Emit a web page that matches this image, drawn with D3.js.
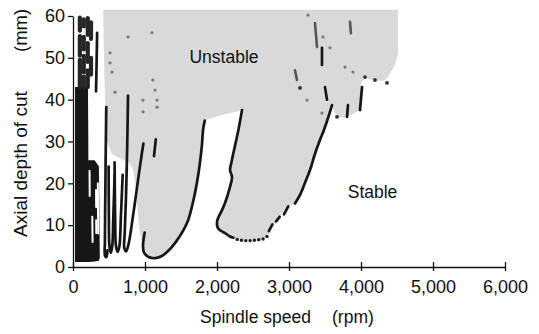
<!DOCTYPE html>
<html><head><meta charset="utf-8">
<script src="https://cdn.jsdelivr.net/npm/d3@7"></script>
<style>
html,body{margin:0;padding:0;background:#fff;}
svg{display:block;font-family:"Liberation Sans",Arial,Helvetica,sans-serif;}
</style></head><body>
<svg id="c" width="539" height="334"></svg>
<script>
// ---------- data (spindle speed rpm, axial depth mm) ----------
const xTicks = [0,1000,2000,3000,4000,5000,6000];
const yTicks = [0,10,20,30,40,50,60];
const xTitle = "Spindle speed";
const xUnit = "(rpm)";
const yTitle = "Axial depth of cut";
const yUnit = "(mm)";
const regionLabels = [["Unstable",2097,48.8],["Stable",4160,16.5]];

// unstable (grey) region outline
const unstableRegion = [[420,61.5],[4514,61.5],[4514,51],[4470,48.3],[4400,46.2],[4333,44.6],[4194,44.5],[4056,45.2],[4000,44],[3986,37.5],[3806,35.9],[3667,35.6],[3600,38.3],[3500,33.9],[3431,30.4],[3300,24],[3200,19.5],[3080,15.3],[2972,14.3],[2850,11.8],[2760,9.5],[2694,7.2],[2600,6.4],[2400,6.4],[2292,6.6],[2208,7.2],[2111,8.1],[2014,9.3],[2000,10.8],[2069,13.6],[2111,15.3],[2208,21.5],[2181,23.2],[2222,28],[2319,35.1],[2347,37.5],[2100,36.5],[1820,35],[1790,29],[1750,23.2],[1680,16],[1583,10.5],[1417,5.7],[1306,3.6],[1208,2.4],[1139,2.2],[1069,2.4],[1000,3.3],[972,5.0],[930,8],[900,13],[870,19],[840,23],[780,25],[650,26],[540,27],[470,30],[445,40],[428,52]];

// dense low-speed band (solid part)
const denseX = [28,208,214,300,360,372];
const denseTop = [43,43,25.5,25.5,24,3];
const denseBottom = [1.2,1.2,1.2,1.3,1.5,2.2];
// speckled upper column: [rpm, top mm, bottom mm]
const speckles = [
  [95,59.6,56.5],[95,55.2,50.5],[95,49.5,43],
  [150,59.2,57.5],[150,55,52],[150,50.5,46.5],[150,45.5,43],
  [205,59.5,55.5],[205,53.5,49],[205,47,43],
  [250,58.5,54.5],[250,50,46]
];

// black lobe boundary lines
const lobeLines = [
  [[335,56],[328,49],[320,42]],
  [[462,38.2],[455,28],[448,16],[443,6],[446,2.6],[465,2.4],[478,4]],
  [[495,24],[498,12],[506,5],[525,3.4],[545,5],[560,12],[578,22]],
  [[578,25],[585,12],[597,5],[620,3.6],[645,5],[665,12],[690,22]],
  [[764,41],[754,30],[738,18],[718,8],[712,4.6],[738,3.7],[772,5.5],[840,13],[905,21],[955,27],[978,29.5]],
  [[1150,30.5],[1125,26.5]],
  [[995,8.2],[972,5.0],[990,3.3],[1050,2.4],[1139,2.1],[1220,2.5],[1306,3.6],[1417,5.7],[1583,10.5],[1660,15],[1720,20],[1760,24.5],[1790,29],[1808,33],[1830,35]],
  [[2347,37.5],[2300,33],[2250,29],[2200,25],[2181,23.2],[2208,21.5],[2170,18.5],[2111,15.3],[2069,13.6],[2000,10.8],[2014,9.3],[2060,8.6],[2111,8.1],[2180,7.3],[2230,7.0]],
  [[3597,38.7],[3540,35.5],[3480,32.5],[3431,30.4],[3360,27],[3292,23.2],[3230,20.5],[3160,17.5],[3083,15.2]],
  [[2990,14.5],[2930,12.6]],
  [[2870,12.0],[2820,10.9]],
  [[2770,10.2],[2720,8.6]],
  [[3458,52.4],[3458,48.3]],
  [[3500,43],[3528,40]],
  [[4014,43],[3986,37.5]],
  [[3819,38.7],[3806,35.9]]
];
// white slits inside the dense band
const whiteSlits = [
  [[230,23],[232,17]],
  [[320,18.4],[322,14.3]],
  [[322,11.2],[324,8.1]],
  [[268,12],[272,6]],
  [[345,20],[350,8]]
];
// medium marks
const mediumMarks = [
  [[3361,58.3],[3389,52.6]],
  [[3847,58.6],[3860,55.9]],
  [[3083,47],[3111,44.7]]
];
// bottom dotted segment of the 2,300 rpm lobe
const bottomDots = [[2280,6.6],[2340,6.4],[2400,6.3],[2460,6.3],[2520,6.4],[2580,6.5],[2640,6.7],[2694,7.3]];
// dark scattered dots
const darkDots = [[3667,35.9],[4056,45.4],[4194,44.7],[4361,44],[3153,42.8]];
// faint scattered dots
const faintDots = [[3264,60.2],[3472,55],[3569,52.4],[3778,47.8],[3889,46.6],[3250,39.9],[3458,36.8],
  [514,51.2],[514,48.8],[542,46.6],[583,41.8],[764,55],[1097,56],[1111,44.7],[1139,42.3],[1167,39.9],[1167,38.2],[972,39.9],[972,37.1]];

// ---------- drawing ----------
const svg = d3.select("#c");
const x = d3.scaleLinear().domain([0,6000]).range([73,505]);
const y = d3.scaleLinear().domain([0,60]).range([267,16]);

const defs = svg.append("defs");
defs.append("filter").attr("id","soft").append("feGaussianBlur").attr("stdDeviation",0.6);

const plot = svg.append("g").attr("filter","url(#soft)");
const straight = d3.line().x(d=>x(d[0])).y(d=>y(d[1]));
const smooth = d3.line().x(d=>x(d[0])).y(d=>y(d[1])).curve(d3.curveCatmullRom);

plot.append("path").datum(unstableRegion)
  .attr("d", d3.line().x(d=>x(d[0])).y(d=>y(d[1])).curve(d3.curveLinearClosed))
  .attr("fill","#d9d9d9");

const areaGen = (xs,top,bot) => d3.area().x((d,i)=>x(xs[i])).y0((d,i)=>y(bot[i])).y1((d,i)=>y(top[i]))(xs);
plot.append("path").attr("d", areaGen(denseX,denseTop,denseBottom)).attr("fill","#141414");

plot.selectAll("line.sp").data(speckles).join("line").attr("class","sp")
  .attr("x1",d=>x(d[0])).attr("x2",d=>x(d[0])).attr("y1",d=>y(d[1])).attr("y2",d=>y(d[2]))
  .attr("stroke","#262626").attr("stroke-width",4.2).attr("stroke-linecap","round");

plot.selectAll("path.slit").data(whiteSlits).join("path").attr("class","slit")
  .attr("d",straight).attr("fill","none").attr("stroke","#fff").attr("stroke-width",2).attr("stroke-linecap","round");

plot.selectAll("path.lobe").data(lobeLines).join("path").attr("class","lobe")
  .attr("d",smooth).attr("fill","none").attr("stroke","#161616")
  .attr("stroke-width",2.7).attr("stroke-linecap","round").attr("stroke-linejoin","round");

plot.selectAll("path.med").data(mediumMarks).join("path").attr("class","med")
  .attr("d",straight).attr("fill","none").attr("stroke","#555")
  .attr("stroke-width",2.6).attr("stroke-linecap","round");

plot.selectAll("circle.bd").data(bottomDots).join("circle").attr("class","bd")
  .attr("cx",d=>x(d[0])).attr("cy",d=>y(d[1])).attr("r",1.7).attr("fill","#222");
plot.selectAll("circle.dd").data(darkDots).join("circle").attr("class","dd")
  .attr("cx",d=>x(d[0])).attr("cy",d=>y(d[1])).attr("r",1.9).attr("fill","#333");
plot.selectAll("circle.fd").data(faintDots).join("circle").attr("class","fd")
  .attr("cx",d=>x(d[0])).attr("cy",d=>y(d[1])).attr("r",1.6).attr("fill","#7a7a7a");

// axes
const fs = 18;
const gx = svg.append("g").attr("transform",`translate(0,${y(0)})`)
  .call(d3.axisBottom(x).tickValues(xTicks).tickFormat(d3.format(",")).tickSizeInner(4).tickSizeOuter(0).tickPadding(9));
gx.selectAll(".tick line").attr("y1",-5);
const gy = svg.append("g").attr("transform",`translate(${x(0)},0)`)
  .call(d3.axisLeft(y).tickValues(yTicks).tickSizeInner(5).tickSizeOuter(0).tickPadding(3));
[gx,gy].forEach(g=>{
  g.selectAll("text").attr("font-size",fs).attr("font-family","Liberation Sans, Arial, sans-serif").attr("fill","#111");
  g.selectAll("line,path").attr("stroke","#111").attr("stroke-width",1.3);
});

// region labels
svg.selectAll("text.rl").data(regionLabels).join("text").attr("class","rl")
  .attr("x",d=>x(d[1])).attr("y",d=>y(d[2])).attr("text-anchor","middle")
  .attr("font-size",17.5).attr("fill","#111").text(d=>d[0]);

// axis titles
svg.append("text").attr("x",200).attr("y",323).attr("font-size",17.5).attr("fill","#111").text(xTitle);
svg.append("text").attr("x",332).attr("y",323).attr("font-size",17.5).attr("fill","#111").text(xUnit);
svg.append("text").attr("transform","translate(27,237) rotate(-90)").attr("font-size",19).attr("fill","#111").text(yTitle);
svg.append("text").attr("transform","translate(27,52) rotate(-90)").attr("font-size",18.5).attr("fill","#111").text(yUnit);
</script>
</body></html>
